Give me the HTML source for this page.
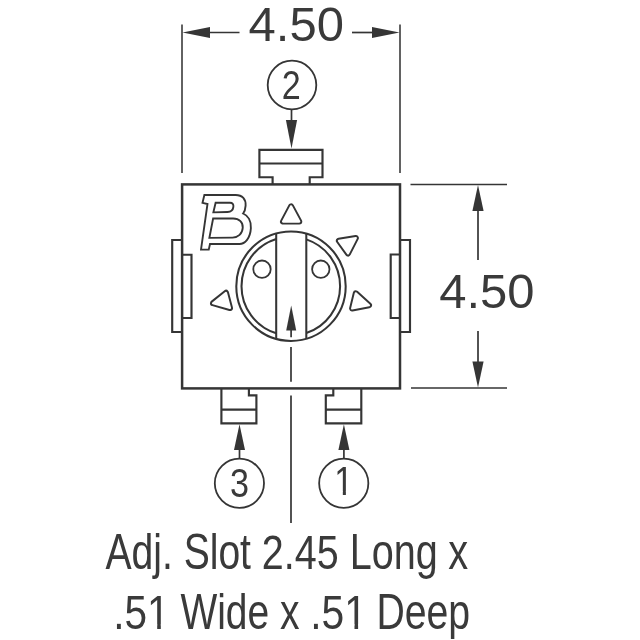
<!DOCTYPE html>
<html><head><meta charset="utf-8"><title>Trimmer dimensions</title>
<style>
html,body{margin:0;padding:0;background:#fff;}
body{width:640px;height:640px;overflow:hidden;}
svg{display:block;will-change:transform;}
text{font-family:"Liberation Sans",sans-serif;fill:#3a3a3a;}
.l{stroke:#353535;fill:none;}
.a{fill:#353535;stroke:none;}
</style></head><body>
<svg width="640" height="640" viewBox="0 0 640 640">
<rect width="640" height="640" fill="#fff"/>
<!-- extension lines -->
<g class="l" stroke-width="1.55">
<path d="M182 24.5V173"/>
<path d="M400 24.5V173"/>
<path d="M410.5 184.5H507"/>
<path d="M411 388H507"/>
</g>
<g class="l" stroke-width="1.7">
<!-- dim arrows lines -->
<path d="M205 32.5H239.5"/>
<path d="M352 32.5H378"/>
<path d="M478 205V260"/>
<path d="M478 331V368"/>
<!-- pin arrows -->
<path d="M291.5 109.5V125"/>
<path d="M239.5 445V459"/>
<path d="M343.9 445V459"/>
<!-- centre line -->
<path d="M291.1 328V337.2M291 347V381.7M291 395.6V523"/>
</g>
<g class="a">
<path d="M182.5 32.5L210 27V38Z"/>
<path d="M399.5 32.5L372 27V38Z"/>
<path d="M478 185L472.4 211H483.6Z"/>
<path d="M478 387.5L472.4 361.5H483.6Z"/>
<path d="M291.5 148.6L285.9 120H297.1Z"/>
<path d="M239.5 424.3L234 450H245Z"/>
<path d="M343.9 424.3L338.4 450H349.4Z"/>
<path d="M291.2 305.6L286.2 330.6H296.2Z"/>
</g>
<!-- body -->
<g class="l" stroke-width="2.5">
<rect x="182.1" y="184.4" width="217.9" height="204"/>
</g>
<g class="l" stroke-width="2.15">
<!-- top tab -->
<path d="M272.6 184.5V177.2H259.4V149.9H322.5V177.2H309.7V184.5M259.4 163.5H322.5"/>
<!-- side tabs -->
<path d="M182 240H172.2V332H182M182 254.7H191.5V318H182"/>
<path d="M400 240H410V332H400M400 254.5H390.7V318H400"/>
<!-- bottom pins -->
<path d="M221.4 388V423.3H256.4V395.4H248.9V388M221.4 409.6H256.4"/>
<path d="M361.3 388V423.3H325.8V395.4H333.3V388M325.8 409.6H361.3"/>
</g>
<!-- dial -->
<g class="l" stroke-width="2.05">
<circle cx="291" cy="286.2" r="54.7"/>
<path d="M276.2 233.5V338.9M306.3 233.5V338.9"/>
<path d="M276.25 239.1A49.3 49.3 0 0 0 276.25 333.3M306.3 239.4A49.3 49.3 0 0 1 306.3 333"/>
</g>
<g class="l" stroke-width="1.8">
<circle cx="262" cy="269.2" r="8.7"/>
<circle cx="320.8" cy="269.2" r="8.7"/>
</g>
<!-- position marks -->
<g stroke-linejoin="round">
<g stroke="#353535" stroke-width="6" fill="#353535">
<path id="t1" d="M291.1 206.3L283 221.6H299.3Z"/>
<path id="t2" d="M338.9 240.8L355.9 238.0L348.0 253.5Z"/>
<path id="t3" d="M355.8 293.3L369.0 305.3L352.1 308.5Z"/>
<path id="t4" d="M213.0 303.2L226.0 292.8L230.0 308.0Z"/>
</g>
<g stroke="#fff" stroke-width="2.1" fill="#fff">
<use href="#t1"/><use href="#t2"/><use href="#t3"/><use href="#t4"/>
</g>
</g>
<!-- logo -->
<g class="l" stroke-width="15" stroke-linejoin="miter" transform="translate(190 185) scale(0.125)">
<path d="M115 80H365C420 80 448 115 445 165C443 195 437 213 425 228C465 245 490 290 487 345C483 425 440 472 395 472H160L150 517H88L140 152L100 143Z"/>
<path d="M205 142H320C340 142 350 155 347 175C344 200 325 215 300 216L187 219Z"/>
<path d="M185 268H345C395 268 425 300 422 342C419 390 385 420 340 421L155 423Z"/>
</g>
<!-- circles -->
<g class="l" stroke-width="1.8">
<circle cx="292" cy="85" r="24.3"/>
<circle cx="239.4" cy="483.3" r="24.6"/>
<circle cx="343.75" cy="483.3" r="24.6"/>
</g>
<text x="248.6" y="41.2" font-size="47.5" textLength="95.3" lengthAdjust="spacingAndGlyphs">4.50</text>
<text x="439.2" y="307.8" font-size="47.5" textLength="95.3" lengthAdjust="spacingAndGlyphs">4.50</text>
<text x="281.7" y="99.1" font-size="40.5" textLength="19" lengthAdjust="spacingAndGlyphs">2</text>
<text x="229.9" y="497.2" font-size="40.5" textLength="19" lengthAdjust="spacingAndGlyphs">3</text>
<text x="334.3" y="495" font-size="40.5" textLength="19" lengthAdjust="spacingAndGlyphs">1</text>
<text y="569.4"><tspan x="105.39" font-size="50" textLength="67.51" lengthAdjust="spacingAndGlyphs">Adj.</tspan> <tspan x="183.67" font-size="50" textLength="67.29" lengthAdjust="spacingAndGlyphs">Slot</tspan> <tspan x="261.84" font-size="47.8" textLength="76.86" lengthAdjust="spacingAndGlyphs">2.45</tspan> <tspan x="349.78" font-size="50" textLength="88.10" lengthAdjust="spacingAndGlyphs">Long</tspan> <tspan x="448.25" font-size="50" textLength="19.89" lengthAdjust="spacingAndGlyphs">x</tspan></text>
<text y="629.4"><tspan x="113.19" font-size="47.8" textLength="56.41" lengthAdjust="spacingAndGlyphs">.51</tspan> <tspan x="180.38" font-size="49.5" textLength="88.74" lengthAdjust="spacingAndGlyphs">Wide</tspan> <tspan x="279.96" font-size="49.5" textLength="19.52" lengthAdjust="spacingAndGlyphs">x</tspan> <tspan x="310.29" font-size="47.8" textLength="56.67" lengthAdjust="spacingAndGlyphs">.51</tspan> <tspan x="376.42" font-size="49.5" textLength="93.74" lengthAdjust="spacingAndGlyphs">Deep</tspan></text>
<!-- trim foot of digit one to match sans style -->
<g fill="#fff"><rect x="335" y="491.4" width="7.82" height="4.4"/><rect x="345.88" y="491.4" width="7.2" height="4.4"/>
<rect x="148.5" y="624.3" width="8.69" height="5.4"/><rect x="160.8" y="624.3" width="8.4" height="5.4"/>
<rect x="345.5" y="624.3" width="8.98" height="5.4"/><rect x="358.11" y="624.3" width="8.2" height="5.4"/></g>
</svg>
</body></html>
